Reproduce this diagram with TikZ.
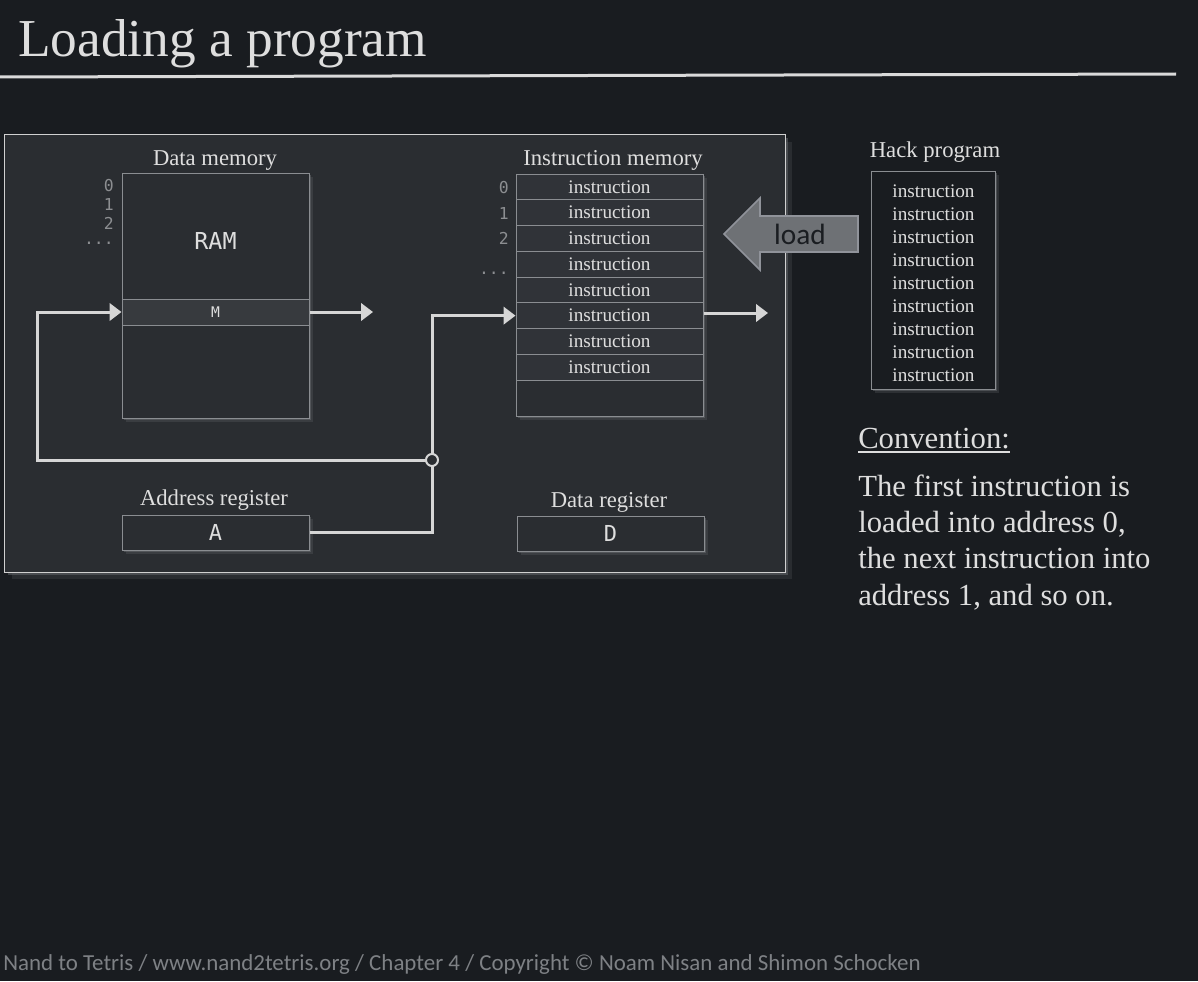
\documentclass[tikz,border=0pt]{standalone}
\usepackage{fontspec}
\setmainfont{Liberation Serif}
\newfontfamily\monof{DejaVu Sans Mono}
\newfontfamily\sansf{Carlito}
\usetikzlibrary{arrows.meta,shadows,calc}
\definecolor{bgc}{HTML}{191C20}
\definecolor{panelc}{HTML}{2A2D31}
\definecolor{rowc}{HTML}{303338}
\definecolor{mrowc}{HTML}{373A3E}
\definecolor{edgec}{HTML}{8A8D91}
\definecolor{wirec}{HTML}{D6D6D6}
\definecolor{txtc}{HTML}{DEDEDE}
\definecolor{numc}{HTML}{8C8E91}
\definecolor{shc}{HTML}{6A6D71}
\definecolor{loadc}{HTML}{6E7175}
\definecolor{loadedge}{HTML}{90939A}
\definecolor{loadtxt}{HTML}{1A1D21}
\definecolor{footc}{HTML}{7E8185}
\definecolor{panedge}{HTML}{D0D0D0}
\tikzset{
  gshadow/.style={drop shadow={shadow xshift=1.5pt,shadow yshift=-1.5pt,fill=shc,opacity=.5},
                  drop shadow={shadow xshift=3pt,shadow yshift=-3pt,fill=shc,opacity=.25}},
  membox/.style={draw=edgec, line width=0.75pt, fill=panelc, minimum width=140.25pt, inner sep=0pt, gshadow},
  rowbox/.style={draw=edgec, line width=0.75pt, fill=rowc, minimum width=140.25pt, minimum height=19.31pt,
                 inner sep=0pt, font=\fontsize{14.4}{16}\selectfont, text=txtc},
  caption/.style={font=\fontsize{17}{20}\selectfont, text=txtc, anchor=base, inner sep=0pt},
  addr/.style={font=\monof\fontsize{12.3}{14}\selectfont, text=numc, anchor=base east, inner sep=0pt},
  wire/.style={draw=wirec, line width=2.25pt},
  arr/.style={wire, -{Triangle[length=9pt,width=13pt]}},
  prog/.style={font=\fontsize{14.4}{16}\selectfont, text=txtc, anchor=base, inner sep=0pt},
  conv/.style={font=\fontsize{23}{27}\selectfont, text=txtc, anchor=base west, inner sep=0pt},
}
\begin{document}
\begin{tikzpicture}[x=0.75pt,y=-0.75pt]
  % background and bounding box
  \fill[bgc] (0,0) rectangle (1198,981);
  \useasboundingbox (0,0) rectangle (1198,981);

  % title
  \node[anchor=base west, inner sep=0pt, text=txtc, font=\fontsize{40}{44}\selectfont] (title) at (18,57) {Loading a program};
  \coordinate (tl) at (0,77);
  \coordinate (tr) at (1176,74);
  \draw[draw=wirec!90, line width=2.25pt] (tl) -- (tr);

  % panel
  \node[fill=panelc, minimum width=585pt, minimum height=327.75pt, inner sep=0pt,
        drop shadow={shadow xshift=2pt,shadow yshift=-2pt,fill=shc,opacity=.5},
        drop shadow={shadow xshift=5pt,shadow yshift=-5pt,fill=shc,opacity=.2}] (panel) at (395,353.5) {};
  \draw[draw=panedge, line width=0.9pt] (panel.north west) rectangle (panel.south east);

  % data memory
  \node[caption] (dmcap) at (215,165) {Data memory};
  \node[membox, minimum height=183.75pt] (ram) at (215.5,295.5) {};
  \node[font=\monof\fontsize{17.5}{20}\selectfont, text=txtc] (ramtxt) at (215.5,241) {RAM};
  \node[draw=edgec, line width=0.75pt, fill=mrowc, minimum width=140.25pt, minimum height=19.5pt, inner sep=0pt,
        font=\monof\fontsize{11}{13}\selectfont, text=txtc] (M) at (215.5,312) {M};
  \node[addr] (d0) at (114,191) {0};
  \node[addr] (d1) at (114,210) {1};
  \node[addr] (d2) at (114,229) {2};
  \node[addr] (d3) at (114,244) {...};

  % instruction memory
  \node[caption] (imcap) at (613,165) {Instruction memory};
  \node[membox, minimum height=181.5pt] (im) at (609.5,295) {};
  \foreach \k in {1,...,8} {
    \node[rowbox] (r\k) at (609.5,{174+12.875+(\k-1)*25.75}) {instruction};
  }
  \node[addr] (i0) at (509,193) {0};
  \node[addr] (i1) at (509,219) {1};
  \node[addr] (i2) at (509,244) {2};
  \node[addr] (i3) at (509,274) {...};

  % registers
  \node[caption] (acap) at (214,505) {Address register};
  \node[membox, minimum height=26.25pt, font=\monof\fontsize{16.5}{18}\selectfont, text=txtc] (A) at (215.5,532.5) {A};
  \node[caption] (dcap) at (609,507) {Data register};
  \node[membox, minimum height=26.25pt, font=\monof\fontsize{16.5}{18}\selectfont, text=txtc] (D) at (610.5,533.5) {D};

  % wires
  \coordinate (jc) at (432,460);
  \coordinate (lc) at (37,460);
  \coordinate (mout) at (373,312);
  \coordinate (imout) at (768,313);
  \draw[wire] (A.east) -| (jc);
  \draw[arr] (jc) |- (r6.west);
  \draw[arr] (jc) -- (lc) |- (M.west);
  \draw[arr] (M.east) -- (mout);
  \draw[arr] (im.east |- imout) -- (imout);
  \node[circle, draw=wirec, fill=panelc, line width=1.5pt, minimum size=9pt, inner sep=0pt] (j) at (jc) {};

  % load arrow
  \fill[loadc, draw=loadedge, line width=1.2pt]
    (858,216) -- (760,216) -- (760,198) -- (724,234) -- (760,270) -- (760,252) -- (858,252) -- cycle;
  \node[font=\sansf\fontsize{22}{24}\selectfont, text=loadtxt] (load) at (800,234) {load};

  % hack program
  \node[caption] (hcap) at (935,157) {Hack program};
  \node[draw=edgec, line width=0.75pt, fill=bgc, minimum width=93pt, minimum height=163.5pt, inner sep=0pt, gshadow] (hp) at (933,280) {};
  \foreach \k in {0,...,8} {
    \node[prog] (p\k) at (933.5,{197+\k*23}) {instruction};
  }

  % convention
  \node[conv] (ct) at (858,448) {Convention:};
  \draw[draw=txtc, line width=0.9pt] ($(ct.base west)+(0,4)$) -- ($(ct.base east)+(0,4)$);
  \node[conv] (c1) at (858,496) {The first instruction is};
  \node[conv] (c2) at (858,532) {loaded into address 0,};
  \node[conv] (c3) at (858,568) {the next instruction into};
  \node[conv] (c4) at (858,605) {address 1, and so on.};

  % footer
  \node[anchor=base west, inner sep=0pt, text=footc, font=\sansf\fontsize{17.2}{19}\selectfont] (foot) at (3,970)
    {Nand to Tetris / www.nand2tetris.org / Chapter 4 / Copyright © Noam Nisan and Shimon Schocken};
\end{tikzpicture}
\end{document}
